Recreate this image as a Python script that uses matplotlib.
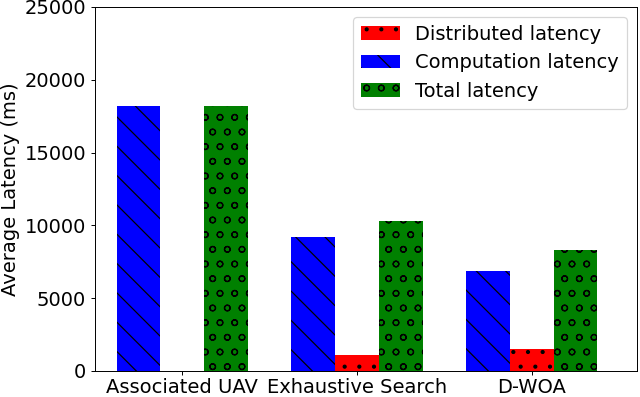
import numpy as np
import matplotlib
matplotlib.use("Agg")
import matplotlib.pyplot as plt

# values
methods = ["Associated UAV", "Exhaustive Search", "D-WOA"]
distributed = [30, 1100, 1480]
computation = [18220, 9220, 6870]
total = [18220, 10290, 8310]

DPI = 88
fig = plt.figure(figsize=(640 / DPI, 397 / DPI), dpi=DPI)
ax = fig.add_axes([0.148, 0.0655, 0.847, 0.917])

x = np.arange(len(methods))
w = 0.25

ax.bar(x, distributed, w, color="red", hatch=".", label="Distributed latency")
ax.bar(x - w, computation, w, color="blue", hatch="\\", label="Computation latency")
ax.bar(x + w, total, w, color="green", hatch="o", label="Total latency")

fs = 16
ax.set_xticks(x)
ax.set_xticklabels(methods, fontsize=fs)
ax.tick_params(axis="x", pad=2.5)
ax.tick_params(axis="y", labelsize=fs)
ax.set_xlim(-0.5, 2.6)
ax.set_ylim(0, 25000)
ax.set_ylabel("Average Latency (ms)", fontsize=fs)
ax.legend(loc="upper right", fontsize=fs)

fig.savefig("out.png", dpi=DPI)
